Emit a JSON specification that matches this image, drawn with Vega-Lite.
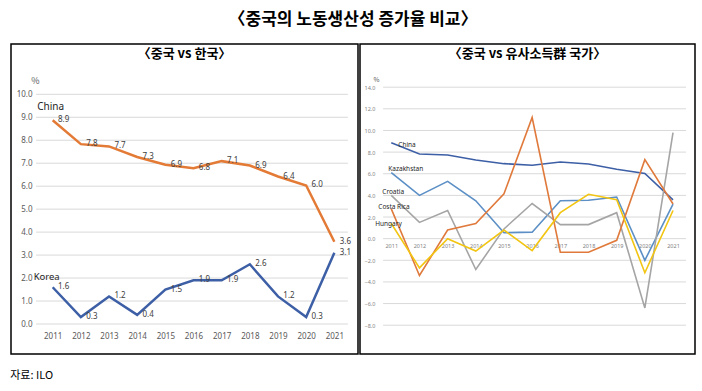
{
  "$schema": "https://vega.github.io/schema/vega-lite/v6.json",
  "padding": {"left": 10, "top": 11, "right": 6, "bottom": 4},
  "background": "#ffffff",
  "config": {
    "font": "Noto Sans CJK KR",
    "view": {"stroke": "#000000", "strokeWidth": 1.5},
    "concat": {"spacing": 0},
    "axis": {"labelOverlap": false, "labelBound": false, "labelFlush": false}
  },
  "title": {"text": "〈중국의 노동생산성 증가율 비교〉", "fontSize": 17, "fontWeight": "bold", "color": "#000000", "anchor": "middle", "offset": 14, "font": "Noto Sans CJK KR"},
  "datasets": {
    "kc": [
      {"year": 2011, "series": "China", "value": 8.87},
      {"year": 2012, "series": "China", "value": 7.83},
      {"year": 2013, "series": "China", "value": 7.73},
      {"year": 2014, "series": "China", "value": 7.27},
      {"year": 2015, "series": "China", "value": 6.93},
      {"year": 2016, "series": "China", "value": 6.78},
      {"year": 2017, "series": "China", "value": 7.09},
      {"year": 2018, "series": "China", "value": 6.9},
      {"year": 2019, "series": "China", "value": 6.42},
      {"year": 2020, "series": "China", "value": 6.03},
      {"year": 2021, "series": "China", "value": 3.58},
      {"year": 2011, "series": "Korea", "value": 1.6},
      {"year": 2012, "series": "Korea", "value": 0.3},
      {"year": 2013, "series": "Korea", "value": 1.2},
      {"year": 2014, "series": "Korea", "value": 0.4},
      {"year": 2015, "series": "Korea", "value": 1.5},
      {"year": 2016, "series": "Korea", "value": 1.9},
      {"year": 2017, "series": "Korea", "value": 1.9},
      {"year": 2018, "series": "Korea", "value": 2.6},
      {"year": 2019, "series": "Korea", "value": 1.2},
      {"year": 2020, "series": "Korea", "value": 0.3},
      {"year": 2021, "series": "Korea", "value": 3.1}
    ],
    "peers": [
      {"year": 2011, "series": "China", "value": 8.87},
      {"year": 2012, "series": "China", "value": 7.83},
      {"year": 2013, "series": "China", "value": 7.73},
      {"year": 2014, "series": "China", "value": 7.27},
      {"year": 2015, "series": "China", "value": 6.93},
      {"year": 2016, "series": "China", "value": 6.78},
      {"year": 2017, "series": "China", "value": 7.09},
      {"year": 2018, "series": "China", "value": 6.9},
      {"year": 2019, "series": "China", "value": 6.42},
      {"year": 2020, "series": "China", "value": 6.03},
      {"year": 2021, "series": "China", "value": 3.58},
      {"year": 2011, "series": "Kazakhstan", "value": 6.1},
      {"year": 2012, "series": "Kazakhstan", "value": 4.0},
      {"year": 2013, "series": "Kazakhstan", "value": 5.3},
      {"year": 2014, "series": "Kazakhstan", "value": 3.5},
      {"year": 2015, "series": "Kazakhstan", "value": 0.55},
      {"year": 2016, "series": "Kazakhstan", "value": 0.6},
      {"year": 2017, "series": "Kazakhstan", "value": 3.5},
      {"year": 2018, "series": "Kazakhstan", "value": 3.55},
      {"year": 2019, "series": "Kazakhstan", "value": 3.85},
      {"year": 2020, "series": "Kazakhstan", "value": -2.0},
      {"year": 2021, "series": "Kazakhstan", "value": 3.2},
      {"year": 2011, "series": "Croatia", "value": 4.0},
      {"year": 2012, "series": "Croatia", "value": 1.5},
      {"year": 2013, "series": "Croatia", "value": 2.6},
      {"year": 2014, "series": "Croatia", "value": -2.85},
      {"year": 2015, "series": "Croatia", "value": 0.9},
      {"year": 2016, "series": "Croatia", "value": 3.25},
      {"year": 2017, "series": "Croatia", "value": 1.3},
      {"year": 2018, "series": "Croatia", "value": 1.3},
      {"year": 2019, "series": "Croatia", "value": 2.4},
      {"year": 2020, "series": "Croatia", "value": -6.4},
      {"year": 2021, "series": "Croatia", "value": 9.8},
      {"year": 2011, "series": "Costa Rica", "value": 2.75},
      {"year": 2012, "series": "Costa Rica", "value": -3.4},
      {"year": 2013, "series": "Costa Rica", "value": 0.8},
      {"year": 2014, "series": "Costa Rica", "value": 1.4},
      {"year": 2015, "series": "Costa Rica", "value": 4.15},
      {"year": 2016, "series": "Costa Rica", "value": 11.2},
      {"year": 2017, "series": "Costa Rica", "value": -1.25},
      {"year": 2018, "series": "Costa Rica", "value": -1.25},
      {"year": 2019, "series": "Costa Rica", "value": -0.15},
      {"year": 2020, "series": "Costa Rica", "value": 7.3},
      {"year": 2021, "series": "Costa Rica", "value": 3.2},
      {"year": 2011, "series": "Hungary", "value": 1.4},
      {"year": 2012, "series": "Hungary", "value": -2.7},
      {"year": 2013, "series": "Hungary", "value": 0.0},
      {"year": 2014, "series": "Hungary", "value": -1.15},
      {"year": 2015, "series": "Hungary", "value": 0.8},
      {"year": 2016, "series": "Hungary", "value": -1.1},
      {"year": 2017, "series": "Hungary", "value": 2.4},
      {"year": 2018, "series": "Hungary", "value": 4.1},
      {"year": 2019, "series": "Hungary", "value": 3.6},
      {"year": 2020, "series": "Hungary", "value": -3.15},
      {"year": 2021, "series": "Hungary", "value": 2.6}
    ],
    "gridL": [{"g": 0}, {"g": 1}, {"g": 2}, {"g": 3}, {"g": 4}, {"g": 5}, {"g": 6}, {"g": 7}, {"g": 8}, {"g": 9}, {"g": 10}],
    "gridR": [{"g": -8}, {"g": -6}, {"g": -4}, {"g": -2}, {"g": 0}, {"g": 2}, {"g": 4}, {"g": 6}, {"g": 8}, {"g": 10}, {"g": 12}, {"g": 14}]
  },
  "vconcat": [
    {
      "title": {"text": "자료: ILO", "orient": "bottom", "anchor": "start", "fontSize": 11, "fontWeight": "normal", "color": "#000000", "offset": 15, "font": "Noto Sans CJK KR"},
      "resolve": {"scale": {"color": "independent", "x": "independent", "y": "independent"}},
      "spacing": 0,
      "hconcat": [
        {
          "width": 347,
          "height": 310,
          "title": {"text": "〈중국 vs 한국〉", "fontSize": 13, "fontWeight": "bold", "color": "#000000", "anchor": "middle", "offset": -17, "font": "Noto Sans CJK KR"},
          "resolve": {"axis": {"x": "independent", "y": "independent"}},
          "layer": [
            {
              "data": {"name": "gridL"},
              "mark": {"type": "rule", "color": "#D9D9D9", "strokeWidth": 1},
              "encoding": {
                "y": {"field": "g", "type": "quantitative", "scale": {"domain": [-1.306, 12.19], "nice": false, "zero": false},
                  "axis": {"values": [0, 1, 2, 3, 4, 5, 6, 7, 8, 9, 10], "format": ".1f", "grid": false, "domain": false, "ticks": false, "offset": -21, "labelPadding": 0, "labelFontSize": 8, "labelColor": "#595959", "labelFont": "Noto Sans", "labelOverlap": false, "title": "%", "titleAngle": 0, "titleX": 3, "titleY": 36, "titleFontSize": 9, "titleFontWeight": "normal", "titleColor": "#595959", "titleAlign": "center", "titleBaseline": "middle"}},
                "x": {"datum": 2010.41, "type": "quantitative", "scale": {"domain": [2009.52, 2021.84], "nice": false, "zero": false}, "axis": null},
                "x2": {"datum": 2021.48}
              }
            },
            {
              "data": {"name": "kc"},
              "mark": {"type": "line", "strokeWidth": 2.5},
              "encoding": {
                "x": {"field": "year", "type": "quantitative", "scale": {"domain": [2009.52, 2021.84], "nice": false, "zero": false},
                  "axis": {"values": [2011, 2012, 2013, 2014, 2015, 2016, 2017, 2018, 2019, 2020, 2021], "format": "d", "grid": false, "domain": false, "ticks": false, "offset": -30, "labelPadding": 8, "labelFontSize": 8, "labelColor": "#595959", "title": null, "labelFont": "Noto Sans", "labelOverlap": false}},
                "y": {"field": "value", "type": "quantitative", "scale": {"domain": [-1.306, 12.19], "nice": false, "zero": false}, "axis": null},
                "color": {"field": "series", "type": "nominal", "scale": {"domain": ["China", "Korea"], "range": ["#E37A35", "#3D5FA6"]}, "legend": null}
              }
            },
            {
              "data": {"name": "kc"},
              "mark": {"type": "text", "fontSize": 8, "color": "#404040", "align": "center", "baseline": "middle", "dx": 11, "font": "Noto Sans"},
              "encoding": {
                "x": {"field": "year", "type": "quantitative", "scale": {"domain": [2009.52, 2021.84], "nice": false, "zero": false}, "axis": null},
                "y": {"field": "value", "type": "quantitative", "scale": {"domain": [-1.306, 12.19], "nice": false, "zero": false}, "axis": null},
                "text": {"field": "value", "type": "quantitative", "format": ".1f"}
              }
            },
            {
              "data": {"name": "kc"},
              "transform": [{"filter": "datum.year === 2011 && datum.series === 'China'"}],
              "mark": {"type": "text", "fontSize": 10, "color": "#262626", "align": "center", "baseline": "middle", "dx": -2, "dy": -13, "font": "Noto Sans"},
              "encoding": {
                "x": {"field": "year", "type": "quantitative", "scale": {"domain": [2009.52, 2021.84], "nice": false, "zero": false}, "axis": null},
                "y": {"field": "value", "type": "quantitative", "scale": {"domain": [-1.306, 12.19], "nice": false, "zero": false}, "axis": null},
                "text": {"field": "series", "type": "nominal"}
              }
            },
            {
              "data": {"name": "kc"},
              "transform": [{"filter": "datum.year === 2011 && datum.series === 'Korea'"}],
              "mark": {"type": "text", "fontSize": 9.5, "color": "#262626", "align": "center", "baseline": "middle", "dx": -6, "dy": -10, "font": "Noto Sans"},
              "encoding": {
                "x": {"field": "year", "type": "quantitative", "scale": {"domain": [2009.52, 2021.84], "nice": false, "zero": false}, "axis": null},
                "y": {"field": "value", "type": "quantitative", "scale": {"domain": [-1.306, 12.19], "nice": false, "zero": false}, "axis": null},
                "text": {"field": "series", "type": "nominal"}
              }
            }
          ]
        },
        {
          "width": 335,
          "height": 310,
          "title": {"text": "〈중국 vs 유사소득群 국가〉", "fontSize": 13, "fontWeight": "bold", "color": "#000000", "anchor": "middle", "offset": -17, "font": "Noto Sans CJK KR"},
          "resolve": {"axis": {"x": "independent", "y": "independent"}},
          "layer": [
            {
              "data": {"name": "gridR"},
              "mark": {"type": "rule", "color": "#D9D9D9", "strokeWidth": 1},
              "encoding": {
                "y": {"field": "g", "type": "quantitative", "scale": {"domain": [-10.66, 17.99], "nice": false, "zero": false},
                  "axis": {"values": [-8, -6, -4, -2, 0, 2, 4, 6, 8, 10, 12, 14], "format": ".1f", "grid": false, "domain": false, "ticks": false, "offset": -15, "labelPadding": 0, "labelFontSize": 5.5, "labelColor": "#7F7F7F", "labelFont": "Noto Sans", "labelOverlap": false, "title": "%", "titleAngle": 0, "titleX": 1, "titleY": 35, "titleFontSize": 6.5, "titleFontWeight": "normal", "titleColor": "#595959", "titleAlign": "center", "titleBaseline": "middle"}},
                "x": {"datum": 2010.71, "type": "quantitative", "scale": {"domain": [2009.89, 2021.78], "nice": false, "zero": false}, "axis": null},
                "x2": {"datum": 2021.46}
              }
            },
            {
              "data": {"name": "peers"},
              "mark": {"type": "line", "strokeWidth": 1.6},
              "encoding": {
                "x": {"field": "year", "type": "quantitative", "scale": {"domain": [2009.89, 2021.78], "nice": false, "zero": false},
                  "axis": {"values": [2011, 2012, 2013, 2014, 2015, 2016, 2017, 2018, 2019, 2020, 2021], "format": "d", "grid": false, "domain": false, "ticks": false, "offset": -115.3, "labelPadding": 5, "labelFontSize": 5.5, "labelColor": "#7F7F7F", "title": null, "labelFont": "Noto Sans", "labelOverlap": false}},
                "y": {"field": "value", "type": "quantitative", "scale": {"domain": [-10.66, 17.99], "nice": false, "zero": false}, "axis": null},
                "color": {"field": "series", "type": "nominal", "scale": {"domain": ["China", "Kazakhstan", "Croatia", "Costa Rica", "Hungary"], "range": ["#3D5FA6", "#5B8FC5", "#A5A5A5", "#E07A3C", "#F2C513"]}, "legend": null},
                "strokeWidth": {"condition": {"test": "datum.series === 'China'", "value": 2.2}, "value": 1.6}
              }
            },
            {
              "data": {"name": "peers"},
              "transform": [{"filter": "datum.year === 2011 && datum.series === 'China'"}],
              "mark": {"type": "text", "fontSize": 6.5, "color": "#262626", "align": "left", "baseline": "middle", "dx": 7, "dy": 2, "font": "Noto Sans"},
              "encoding": {
                "x": {"field": "year", "type": "quantitative", "scale": {"domain": [2009.89, 2021.78], "nice": false, "zero": false}, "axis": null},
                "y": {"field": "value", "type": "quantitative", "scale": {"domain": [-10.66, 17.99], "nice": false, "zero": false}, "axis": null},
                "text": {"field": "series", "type": "nominal"}
              }
            },
            {
              "data": {"name": "peers"},
              "transform": [{"filter": "datum.year === 2011 && datum.series === 'Kazakhstan'"}],
              "mark": {"type": "text", "fontSize": 6.5, "color": "#262626", "align": "left", "baseline": "middle", "dx": -3, "dy": -4, "font": "Noto Sans"},
              "encoding": {
                "x": {"field": "year", "type": "quantitative", "scale": {"domain": [2009.89, 2021.78], "nice": false, "zero": false}, "axis": null},
                "y": {"field": "value", "type": "quantitative", "scale": {"domain": [-10.66, 17.99], "nice": false, "zero": false}, "axis": null},
                "text": {"field": "series", "type": "nominal"}
              }
            },
            {
              "data": {"name": "peers"},
              "transform": [{"filter": "datum.year === 2011 && datum.series === 'Croatia'"}],
              "mark": {"type": "text", "fontSize": 6.5, "color": "#262626", "align": "left", "baseline": "middle", "dx": -9, "dy": -3, "font": "Noto Sans"},
              "encoding": {
                "x": {"field": "year", "type": "quantitative", "scale": {"domain": [2009.89, 2021.78], "nice": false, "zero": false}, "axis": null},
                "y": {"field": "value", "type": "quantitative", "scale": {"domain": [-10.66, 17.99], "nice": false, "zero": false}, "axis": null},
                "text": {"field": "series", "type": "nominal"}
              }
            },
            {
              "data": {"name": "peers"},
              "transform": [{"filter": "datum.year === 2011 && datum.series === 'Costa Rica'"}],
              "mark": {"type": "text", "fontSize": 6.5, "color": "#262626", "align": "left", "baseline": "middle", "dx": -13, "dy": -2, "font": "Noto Sans"},
              "encoding": {
                "x": {"field": "year", "type": "quantitative", "scale": {"domain": [2009.89, 2021.78], "nice": false, "zero": false}, "axis": null},
                "y": {"field": "value", "type": "quantitative", "scale": {"domain": [-10.66, 17.99], "nice": false, "zero": false}, "axis": null},
                "text": {"field": "series", "type": "nominal"}
              }
            },
            {
              "data": {"name": "peers"},
              "transform": [{"filter": "datum.year === 2011 && datum.series === 'Hungary'"}],
              "mark": {"type": "text", "fontSize": 6.5, "color": "#262626", "align": "left", "baseline": "middle", "dx": -16, "dy": 0, "font": "Noto Sans"},
              "encoding": {
                "x": {"field": "year", "type": "quantitative", "scale": {"domain": [2009.89, 2021.78], "nice": false, "zero": false}, "axis": null},
                "y": {"field": "value", "type": "quantitative", "scale": {"domain": [-10.66, 17.99], "nice": false, "zero": false}, "axis": null},
                "text": {"field": "series", "type": "nominal"}
              }
            }
          ]
        }
      ]
    }
  ]
}
